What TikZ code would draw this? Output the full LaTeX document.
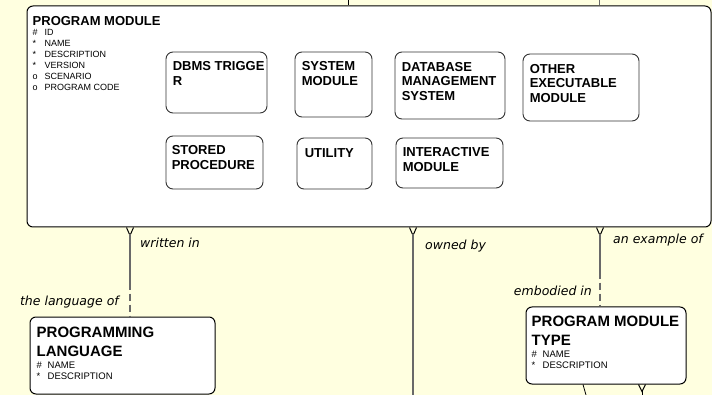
\documentclass[tikz,border=0pt]{standalone}
\usepackage{fontspec}
\setmainfont{Liberation Sans}
\newfontfamily\labfont{DejaVu Sans}
\usetikzlibrary{calc}
\definecolor{bgyellow}{RGB}{255,255,224}
\definecolor{connc}{RGB}{105,105,105}
\begin{document}
\begin{tikzpicture}[x=1pt,y=-1pt,
  entity/.style={draw=black, fill=white, rounded corners=6pt, line width=1pt, inner sep=0pt},
  subent/.style={draw=black!80, fill=white, rounded corners=7pt, line width=0.9pt, inner sep=0pt},
  subtxt/.style={anchor=north west, inner sep=0pt, align=left, font=\fontsize{13}{15}\selectfont\bfseries},
  bigtxt/.style={anchor=north west, inner sep=0pt, align=left, font=\fontsize{15}{18.5}\selectfont\bfseries},
  attr/.style={anchor=north west, inner sep=0pt, align=left, font=\fontsize{9}{11}\selectfont},
  attrb/.style={anchor=north west, inner sep=0pt, align=left, font=\fontsize{9.5}{11}\selectfont},
  rel/.style={inner sep=0pt, font=\labfont\itshape\fontsize{12.5}{14}\selectfont},
  conn/.style={draw=connc, line width=1.5pt},
  dashconn/.style={draw=connc, line width=1.5pt, dash pattern=on 7pt off 4pt},
  foot/.style={draw=black, line width=1pt}
]
\fill[bgyellow] (0,0) rectangle (712,395);
\useasboundingbox (0,0) rectangle (712,395);

% top stubs
\coordinate (t1) at (348,0);
\coordinate (t2) at (599,0);

% main entity
\node[entity, minimum width=684pt, minimum height=221pt] (pm) at (369,116.5) {};
\draw[black, line width=0.8pt] (t1) -- (pm.north -| t1);
\draw[connc, line width=1pt] (t2) -- (pm.north -| t2);
\node[subtxt] (pmt1) at ([shift={(6,10.5)}]pm.north west) {PROGRAM MODULE};
\node[attr] (pma) at ([shift={(6,24)}]pm.north west) {\makebox[12pt][l]{\#}ID\\\makebox[12pt][l]{*}NAME\\\makebox[12pt][l]{*}DESCRIPTION\\\makebox[12pt][l]{*}VERSION\\\makebox[12pt][l]{o}SCENARIO\\\makebox[12pt][l]{o}PROGRAM CODE};

% subtypes
\node[subent, minimum width=101pt, minimum height=61pt] (dbms) at (216.5,82.5) {};
\node[subtxt] at ([shift={(7,10)}]dbms.north west) {DBMS TRIGGE\\R};
\node[subent, minimum width=77pt, minimum height=65pt] (sys) at (333.5,84.5) {};
\node[subtxt] at ([shift={(7,10)}]sys.north west) {SYSTEM\\MODULE};
\node[subent, minimum width=110pt, minimum height=67pt] (dbs) at (450,85.5) {};
\node[subtxt, font=\fontsize{13}{14.5}\selectfont\bfseries] at ([shift={(7,10.5)}]dbs.north west) {DATABASE\\MANAGEMENT\\SYSTEM};
\node[subent, minimum width=116pt, minimum height=67pt] (oth) at (581,87.5) {};
\node[subtxt, font=\fontsize{13}{14.5}\selectfont\bfseries] at ([shift={(7,10.5)}]oth.north west) {OTHER\\EXECUTABLE\\MODULE};
\node[subent, minimum width=97pt, minimum height=53pt] (sto) at (214.5,162.5) {};
\node[subtxt] at ([shift={(6,9.5)}]sto.north west) {STORED\\PROCEDURE};
\node[subent, minimum width=75pt, minimum height=51pt] (uti) at (334.5,163.5) {};
\node[subtxt] at ([shift={(8,10.5)}]uti.north west) {UTILITY};
\node[subent, minimum width=107pt, minimum height=50pt] (int) at (449.5,163) {};
\node[subtxt] at ([shift={(7,9.5)}]int.north west) {INTERACTIVE\\MODULE};

% programming language
\node[entity, minimum width=185pt, minimum height=77pt] (pl) at (122.5,355.5) {};
\node[bigtxt] at ([shift={(7,10.5)}]pl.north west) {PROGRAMMING\\LANGUAGE};
\node[attrb] at ([shift={(7,45.6)}]pl.north west) {\makebox[11pt][l]{\#}NAME\\\makebox[11pt][l]{*}DESCRIPTION};

% program module type
\node[entity, minimum width=160pt, minimum height=77pt] (pmty) at (606,345.5) {};
\node[bigtxt, font=\fontsize{15}{19}\selectfont\bfseries] at ([shift={(6,9.5)}]pmty.north west) {PROGRAM MODULE\\TYPE};
\node[attrb] at ([shift={(6,44.6)}]pmty.north west) {\makebox[11pt][l]{\#}NAME\\\makebox[11pt][l]{*}DESCRIPTION};

% written in / the language of
\coordinate (wx) at (130,0);
\coordinate (w0) at (pm.south -| wx);
\coordinate (w1) at (pl.north -| wx);
\draw[foot] ($(w0)+(-3.5,0)$) -- ($(w0)+(0,8)$) -- ($(w0)+(3.5,0)$);
\draw[conn] ($(w0)+(0,7)$) -- ($(w0)!0.62!(w1)$);
\draw[dashconn] ($(w0)!0.62!(w1)$) -- (w1);
\node[rel, anchor=west] (lw) at (140,243) {written in};
\node[rel, anchor=east] (ll) at (119,302) {the language of};

% owned by
\coordinate (ox) at (413,0);
\coordinate (o0) at (pm.south -| ox);
\coordinate (o1) at (413,395);
\draw[foot] ($(o0)+(-3.5,0)$) -- ($(o0)+(0,8)$) -- ($(o0)+(3.5,0)$);
\draw[conn] ($(o0)+(0,7)$) -- (o1);
\node[rel, anchor=west] (lo) at (425,246) {owned by};

% an example of / embodied in
\coordinate (ex) at (600,0);
\coordinate (e0) at (pm.south -| ex);
\coordinate (e1) at (pmty.north -| ex);
\draw[foot] ($(e0)+(-3.5,0)$) -- ($(e0)+(0,8)$) -- ($(e0)+(3.5,0)$);
\draw[conn] ($(e0)+(0,7)$) -- ($(e0)!0.56!(e1)$);
\draw[dashconn] ($(e0)!0.56!(e1)$) -- (e1);
\node[rel, anchor=west] (le) at (613,240) {an example of};
\node[rel, anchor=east] (lb) at (592,291) {embodied in};

% stubs below program module type
\coordinate (bx) at (583,0);
\coordinate (b0) at (pmty.south -| bx);
\coordinate (b1) at (586,395);
\draw[black, line width=0.8pt] (b0) -- (b1);
\coordinate (cx) at (642,0);
\coordinate (c0) at (pmty.south -| cx);
\coordinate (c1) at (642,395);
\draw[foot] ($(c0)+(-3.5,0)$) -- ($(c0)+(0,7)$) -- ($(c0)+(3.5,0)$);
\draw[black, line width=1pt] ($(c0)+(0,6)$) -- (c1);
\end{tikzpicture}
\end{document}
